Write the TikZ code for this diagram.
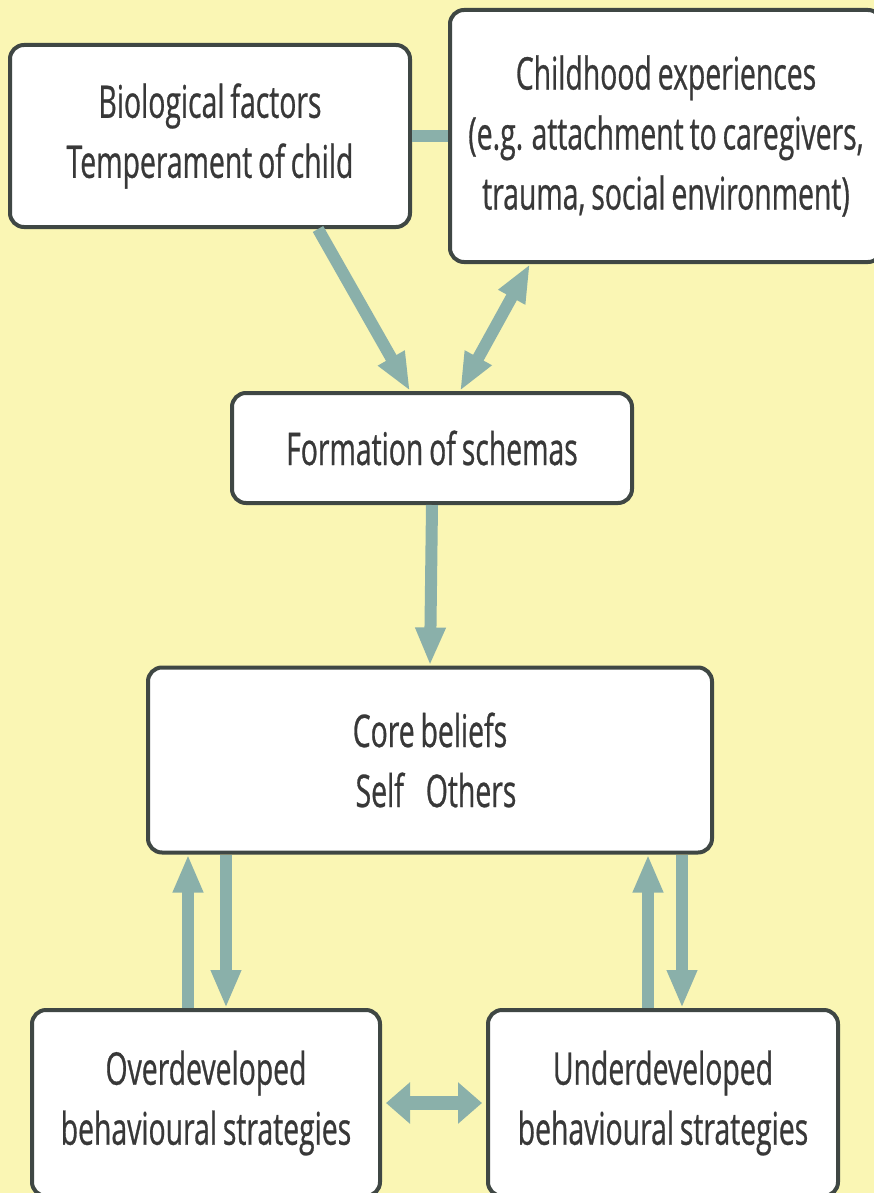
\documentclass[tikz,border=0pt]{standalone}
\usepackage{fontspec}
\setmainfont{Open Sans}[FakeStretch=0.63,WordSpace=0.8,FakeBold=0.6]
\usetikzlibrary{arrows.meta,calc}
\definecolor{bgyellow}{HTML}{FAF6B4}
\definecolor{boxline}{HTML}{3F4744}
\definecolor{linkteal}{HTML}{8AB0AA}
\definecolor{textgrey}{HTML}{383838}
\begin{document}
\begin{tikzpicture}[x=1pt,y=-1pt,
  box/.style={draw=boxline,line width=4pt,fill=white,rounded corners=14pt,
    align=center,text=textgrey,inner sep=0pt,
    font=\fontsize{45}{60}\selectfont},
  link/.style={draw=linkteal,line width=12pt},
  arr/.style={link,-{Triangle[width=28pt,length=38pt]}},
  darr/.style={link,{Triangle[width=28pt,length=38pt]}-{Triangle[width=28pt,length=38pt]}},
  fatarr/.style={draw=linkteal,line width=14pt,
    {Triangle[width=40pt,length=24pt]}-{Triangle[width=40pt,length=24pt]}}]
\useasboundingbox (0,0) rectangle (874,1193);
\fill[bgyellow] (0,0) rectangle (874,1193);

% boxes
\node[box,minimum width=400pt,minimum height=182pt] (bio) at (210,136)
  {Biological factors\\Temperament of child};
\node[box,minimum width=432pt,minimum height=252pt] (child) at (666,136)
  {Childhood experiences\\(e.g. attachment to caregivers,\\trauma, social environment)};
\node[box,minimum width=400pt,minimum height=110pt] (form) at (432,448)
  {Formation of schemas};
\node[box,minimum width=564pt,minimum height=185pt] (core) at (430,760)
  {Core beliefs\\\hspace{12pt}Self\hspace{22pt}Others};
\node[box,minimum width=348pt,minimum height=186pt] (over) at (206,1103)
  {Overdeveloped\\behavioural strategies};
\node[box,minimum width=350pt,minimum height=186pt] (under) at (663,1103)
  {Underdeveloped\\behavioural strategies};

% connector end points
\coordinate (bioout) at ($(bio.south)+(108,0)$);
\coordinate (formin1) at ($(form.north)+(-22,0)$);
\coordinate (childout) at ($(child.south)+(-136,0)$);
\coordinate (formin2) at ($(form.north)+(28,0)$);
\coordinate (overup) at ($(over.north)+(-18,0)$);
\coordinate (overdown) at ($(over.north)+(20,0)$);
\coordinate (underup) at ($(under.north)+(-15,0)$);
\coordinate (underdown) at ($(under.north)+(19,0)$);

% connectors
\path[link] (bio.east) -- (child.west);
\path[arr] (bioout) -- (formin1);
\path[darr] (childout) -- (formin2);
\path[arr] (form.south) -- (core.north);
\path[arr] (overup) -- (overup |- core.south);
\path[arr] (overdown |- core.south) -- (overdown);
\path[arr] (underup) -- (underup |- core.south);
\path[arr] (underdown |- core.south) -- (underdown);
\path[fatarr] ([xshift=4pt]over.east) -- ([xshift=-4pt]under.west);
\end{tikzpicture}
\end{document}
